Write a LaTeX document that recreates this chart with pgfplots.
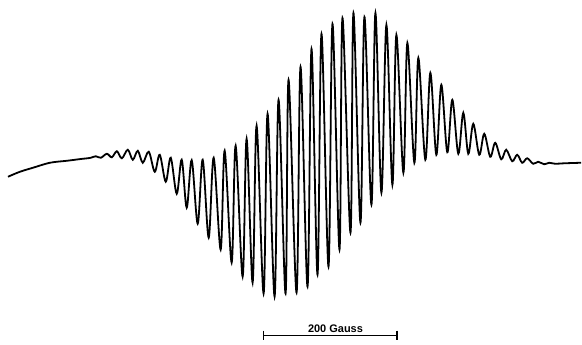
\documentclass[border=0pt]{standalone}
\usepackage{pgfplots}
\pgfplotsset{compat=1.18}
\usepackage{fontspec}
\setmainfont{Liberation Sans}
\begin{document}
\begin{tikzpicture}
\begin{axis}[
  width=291pt, height=172.5pt, scale only axis,
  xmin=0, xmax=582, ymin=0, ymax=345, y dir=reverse,
  hide axis, clip=false,
]
\path (axis cs:0,0) rectangle (axis cs:582,345);
\addplot[black, line width=0.9pt, smooth, tension=0.55] coordinates {
(8,177) (20,172) (33,168) (50,163) (67,161) (83,159)
(88,158.5) (91,158) (96,156.5) (101,158) (107,154) (112,157.5)
(117,151.5) (122,158.5) (128,150) (133,160) (138,151) (143,163)
(149,152) (155,172) (160,155) (166,182) (171,158) (177,194)
(182,160) (187,208) (192,160.5) (198,224) (203,160) (209,238)
(214,158) (221,250) (225,151) (232,263) (236,146) (243,277)
(247,139) (253,283) (257,126) (264,294) (268,114) (275,297)
(279,100) (286,294) (289,80) (297,293) (301,67) (308,287)
(312,49) (318,275) (322,34) (329,267) (333,24) (340,250)
(343,18) (351,233) (354,13) (361,223) (365,17) (372,205)
(376,13) (382,193) (387,25) (393,185) (397,35) (404,173)
(408,43) (415,163) (419,58) (426,160) (431,73) (437,155)
(442,85) (448,152.5) (453,100) (459,154) (464,113) (469,154)
(474,124) (480,155) (485,134) (491,157) (496,143) (502,159.5)
(507,150) (513,161.5) (518,155) (523,163) (528,158.5) (534,164)
(539,162) (545,164.5) (550,163) (556,164) (566,163.5) (582,163)
};
% scale bar
\addplot[black, line width=0.9pt] coordinates {(264,336) (398,336)};
\addplot[black, line width=0.9pt] coordinates {(264,331) (264,341)};
\addplot[black, line width=0.9pt] coordinates {(398,331) (398,341)};
\node[font=\bfseries\fontsize{5.5}{6}\selectfont, anchor=base, inner sep=0pt] at (axis cs:336,332.5) {200 Gauss};
\end{axis}
\end{tikzpicture}
\end{document}
